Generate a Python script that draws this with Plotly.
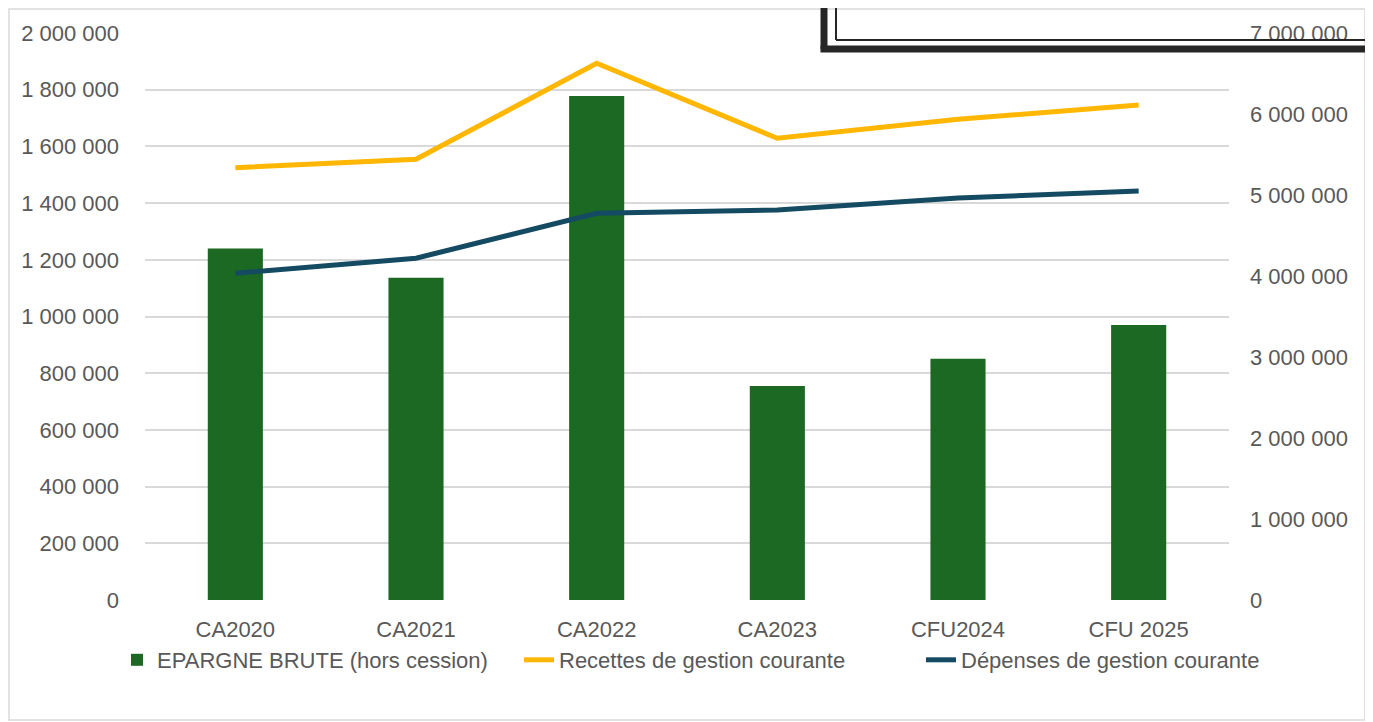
import plotly.graph_objects as go
from plotly.subplots import make_subplots

categories = ["CA2020", "CA2021", "CA2022", "CA2023", "CFU2024", "CFU 2025"]
epargne_brute = [1240000, 1137000, 1778000, 755000, 851000, 970000]
recettes = [5337000, 5441000, 6626000, 5700000, 5935000, 6111000]
depenses = [4033000, 4219000, 4774000, 4815000, 4963000, 5049000]

left_ticks = list(range(0, 2000001, 200000))
right_ticks = list(range(0, 7000001, 1000000))

# page is drawn with an 8px body offset; positions below are page pixels
OFF = 8
W, H = 1373, 722
PLOT_L, PLOT_R, PLOT_T, PLOT_B = 145, 1229, 33, 600
PW, PH = PLOT_R - PLOT_L, PLOT_B - PLOT_T
ML, MT = PLOT_L - OFF, PLOT_T - OFF
MR, MB = W - ML - PW, H - MT - PH


def px(x):
    return (x - PLOT_L) / PW


def py(y):
    return (PLOT_B - y) / PH


FONT = "Liberation Sans, Arial, sans-serif"
FS = 22
TICK_COLOR = "#595959"

fig = make_subplots(specs=[[{"secondary_y": True}]])
fig.add_trace(go.Bar(x=categories, y=epargne_brute, name="EPARGNE BRUTE (hors cession)",
                     marker=dict(color="#1b6923", line=dict(width=0))), secondary_y=False)
fig.add_trace(go.Scatter(x=categories, y=recettes, name="Recettes de gestion courante", mode="lines",
                         line=dict(color="#ffb703", width=5)), secondary_y=True)
fig.add_trace(go.Scatter(x=categories, y=depenses, name="Dépenses de gestion courante", mode="lines",
                         line=dict(color="#154a63", width=5)), secondary_y=True)

shapes = [
    # outer chart border
    dict(type="rect", xref="paper", yref="paper", x0=px(9), x1=px(1365), y0=py(720), y1=py(9),
         line=dict(color="#d9d9d9", width=1.5), layer="below"),
    # overlapping dark frame (top right)
    dict(type="line", xref="paper", yref="paper", x0=px(824), x1=px(824), y0=py(49), y1=py(-10),
         line=dict(color="#262626", width=7)),
    dict(type="line", xref="paper", yref="paper", x0=px(820.5), x1=px(1390), y0=py(49), y1=py(49),
         line=dict(color="#262626", width=7)),
    dict(type="line", xref="paper", yref="paper", x0=px(836), x1=px(836), y0=py(40), y1=py(-10),
         line=dict(color="#262626", width=2)),
    dict(type="line", xref="paper", yref="paper", x0=px(836), x1=px(1390), y0=py(40), y1=py(40),
         line=dict(color="#262626", width=2)),
]

fig.update_layout(
    width=W, height=H,
    margin=dict(l=ML, r=MR, t=MT, b=MB, pad=0, autoexpand=False),
    paper_bgcolor="white", plot_bgcolor="white",
    separators=", ",
    font=dict(family=FONT, size=FS, color=TICK_COLOR),
    bargap=0.695,
    showlegend=True,
    legend=dict(orientation="h", xref="paper", yref="paper",
                x=px(117), xanchor="left", y=py(660), yanchor="middle",
                font=dict(family=FONT, size=FS, color=TICK_COLOR), bgcolor="rgba(0,0,0,0)",
                itemwidth=30, entrywidth=357, entrywidthmode="pixels", traceorder="normal"),
    shapes=shapes,
)
fig.update_xaxes(domain=[0, 1], showgrid=False, showline=False, ticks="", automargin=False,
                 tickfont=dict(size=FS, color=TICK_COLOR), ticklabelstandoff=14)
fig.update_yaxes(range=[0, 2000000], tickvals=left_ticks, tickformat=",d", showgrid=True,
                 gridcolor="#d9d9d9", gridwidth=1.5, zeroline=False, showline=False, ticks="",
                 automargin=False, tickfont=dict(size=FS, color=TICK_COLOR), ticklabelstandoff=25,
                 secondary_y=False)
fig.update_yaxes(range=[0, 7000000], tickvals=right_ticks, tickformat=",d", showgrid=False,
                 zeroline=False, showline=False, ticks="", automargin=False,
                 tickfont=dict(size=FS, color=TICK_COLOR), ticklabelstandoff=20, secondary_y=True)

fig.write_html("out.html")
